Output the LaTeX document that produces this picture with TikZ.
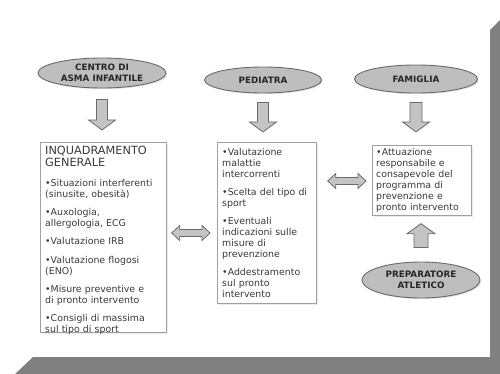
\documentclass[tikz,border=0pt]{standalone}
\usepackage{fontspec}
\setmainfont{DejaVu Sans}
\usetikzlibrary{shapes.geometric,calc,shadows}
\definecolor{shadowgrey}{HTML}{808080}
\definecolor{ellfill}{HTML}{BEBEBE}
\definecolor{ellline}{HTML}{6A6A6A}
\definecolor{arrfill}{HTML}{C4C4C4}
\definecolor{arrline}{HTML}{6A6A6A}
\definecolor{boxline}{HTML}{A0A0A0}
\definecolor{bodytext}{HTML}{3A3A3A}
\newcommand\boxtextsetup{\setlength{\parskip}{0pt}\setlength{\parindent}{0pt}}
% #1 from, #2 to, #3 shaft half width, #4 head half width, #5 head length
\newcommand\blockarrow[5]{%
  \coordinate (bahead) at ($(#2)!#5!(#1)$);
  \draw[blockarr] ($(#1)!#3!90:(#2)$) -- ($(bahead)!#3!-90:(#1)$) -- ($(bahead)!#4!-90:(#1)$) -- (#2) -- ($(bahead)!#4!90:(#1)$) -- ($(bahead)!#3!90:(#1)$) -- ($(#1)!#3!-90:(#2)$) -- cycle;}
\newcommand\twinarrow[5]{%
  \coordinate (dahA) at ($(#1)!#5!(#2)$);
  \coordinate (dahB) at ($(#2)!#5!(#1)$);
  \draw[blockarr] (#1) -- ($(dahA)!#4!90:(#2)$) -- ($(dahA)!#3!90:(#2)$) -- ($(dahB)!#3!-90:(#1)$) -- ($(dahB)!#4!-90:(#1)$) -- (#2) -- ($(dahB)!#4!90:(#1)$) -- ($(dahB)!#3!90:(#1)$) -- ($(dahA)!#3!-90:(#2)$) -- ($(dahA)!#4!-90:(#2)$) -- cycle;}
\begin{document}
\begin{tikzpicture}[x=1pt,y=-1pt,
  ellnode/.style={ellipse, draw=ellline, fill=ellfill, line width=0.9pt, inner sep=0pt, align=center, text=black!85, font=\fontsize{8.8}{10.5}\selectfont\bfseries, drop shadow={shadow xshift=1.2pt, shadow yshift=-1.2pt, opacity=0.2}},
  boxnode/.style={draw=boxline, line width=0.7pt, fill=white, inner sep=0pt, anchor=north west, drop shadow={shadow xshift=1.2pt, shadow yshift=-1.2pt, opacity=0.15}},
  txtnode/.style={anchor=north west, inner sep=0pt, text width=130pt, align=left, text=bodytext, font=\fontsize{9.4}{11}\selectfont},
  blockarr/.style={draw=arrline, fill=arrfill, line width=0.8pt, line join=miter}]

\useasboundingbox (0,0) rectangle (500,374);
\fill[white] (0,0) rectangle (500,374);
\fill[shadowgrey] (33,357) -- (490,357) -- (490,30) -- (500,20) -- (500,374) -- (15,374) -- cycle;

% ellipses
\node[ellnode, minimum width=128pt, minimum height=30pt] (eC) at (102,73) {CENTRO DI\\ASMA INFANTILE};
\node[ellnode, minimum width=117pt, minimum height=26pt] (eP) at (263,80) {PEDIATRA};
\node[ellnode, minimum width=123pt, minimum height=28pt] (eF) at (416,79) {FAMIGLIA};
\node[ellnode, minimum width=118pt, minimum height=36pt] (eA) at (421,280) {PREPARATORE\\ATLETICO};

% boxes
\node[boxnode, minimum width=126pt, minimum height=190pt] (boxL) at (40,142) {};
\node[boxnode, minimum width=99pt, minimum height=161pt] (boxM) at (217,142) {};
\node[boxnode, minimum width=99pt, minimum height=70pt] (boxR) at (372,145) {};

% texts
\node[txtnode] (tL) at ($(boxL.north west)+(5,4)$) {\boxtextsetup{\fontsize{11.3}{12}\selectfont INQUADRAMENTO\\GENERALE\par}\vspace{9pt}•Situazioni interferenti\\(sinusite, obesità)\par\vspace{7pt}•Auxologia,\\allergologia, ECG\par\vspace{7pt}•Valutazione IRB\par\vspace{8pt}•Valutazione flogosi\\(ENO)\par\vspace{7pt}•Misure preventive e\\di pronto intervento\par\vspace{7pt}•Consigli di massima\\sul tipo di sport};
\node[txtnode] (tM) at ($(boxM.north west)+(5,6)$) {\boxtextsetup •Valutazione\\malattie\\intercorrenti\par\vspace{7pt}•Scelta del tipo di\\sport\par\vspace{7pt}•Eventuali\\indicazioni sulle\\misure di\\prevenzione\par\vspace{7pt}•Addestramento\\sul pronto\\intervento};
\node[txtnode] (tR) at ($(boxR.north west)+(4,3)$) {\boxtextsetup •Attuazione\\responsabile e\\consapevole del\\programma di\\prevenzione e\\pronto intervento};

% vertical block arrows
\coordinate (a1s) at ($(eC.south)+(0,11)$);
\coordinate (a1e) at ($(a1s |- boxL.north)+(0,-12)$);
\blockarrow{a1s}{a1e}{5.5pt}{13.5pt}{10pt}
\coordinate (a2s) at ($(eP.south)+(0,9)$);
\coordinate (a2e) at ($(a2s |- boxM.north)+(0,-10)$);
\blockarrow{a2s}{a2e}{5.5pt}{13.5pt}{10pt}
\coordinate (a3s) at ($(eF.south)+(0,9)$);
\coordinate (a3e) at ($(a3s |- boxR.north)+(0,-13)$);
\blockarrow{a3s}{a3e}{6pt}{13.5pt}{10pt}
\coordinate (a4s) at ($(eA.north)+(0,-14)$);
\coordinate (a4e) at ($(a4s |- boxR.south)+(0,8)$);
\blockarrow{a4s}{a4e}{7pt}{14pt}{10pt}

% horizontal double arrows
\coordinate (lvlA) at (0,233);
\coordinate (lvlB) at (0,181);
\coordinate (d1a) at ($(boxL.east |- lvlA)+(5,0)$);
\coordinate (d1b) at ($(boxM.west |- lvlA)+(-7,0)$);
\twinarrow{d1a}{d1b}{3.5pt}{7.5pt}{8pt}
\coordinate (d2a) at ($(boxM.east |- lvlB)+(11,0)$);
\coordinate (d2b) at ($(boxR.west |- lvlB)+(-6,0)$);
\twinarrow{d2a}{d2b}{3.5pt}{7.5pt}{8pt}
\end{tikzpicture}
\end{document}
